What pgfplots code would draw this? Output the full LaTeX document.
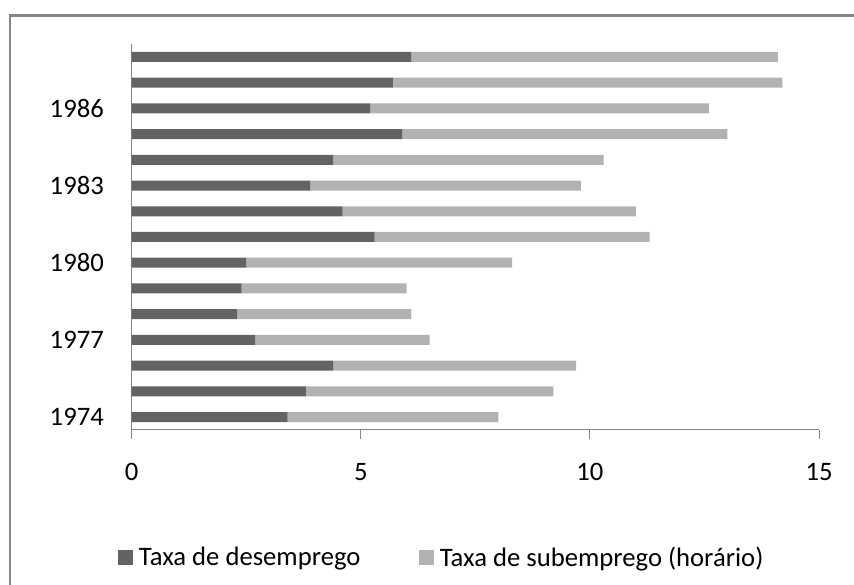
\documentclass[border=0pt]{standalone}
\usepackage{pgfplots}
\pgfplotsset{compat=1.18}
\usepackage{fontspec}
\setmainfont{Carlito}
\definecolor{dark}{HTML}{636363}
\definecolor{light}{HTML}{B2B2B2}
\definecolor{axgray}{HTML}{868686}
\begin{document}
\begin{tikzpicture}
\useasboundingbox (0,0) rectangle (640.5pt,438.75pt);
\draw[axgray, line width=1.8pt] (7.3pt,-2pt) -- (7.3pt,427pt) -- (643pt,427pt);
\begin{axis}[
  at={(98.8pt,116.25pt)}, anchor=south west,
  scale only axis, width=515.5pt, height=289.5pt,
  xbar stacked, bar width=7.5pt,
  xmin=0, xmax=15, ymin=1973.5, ymax=1988.5,
  xtick={0,5,10,15}, ytick={1974,1977,1980,1983,1986},
  axis x line*=bottom, axis y line*=left,
  axis line style={axgray, line width=0.75pt, -},
  tick align=outside, major tick length=6.75pt,
  xtick style={axgray, line width=0.75pt},
  ytick style={draw=none},
  font=\fontsize{20}{24}\selectfont,
  /pgf/number format/assume math mode=true,
  /pgf/number format/1000 sep={},
  yticklabel style={anchor=east, inner sep=0pt, xshift=-14pt},
  xticklabel style={anchor=north, inner sep=0pt, yshift=-18pt},
  legend columns=2,
  legend style={at={(-0.02,-0.33)}, anchor=west, draw=none, fill=none, inner sep=0pt,
    font=\fontsize{20}{24}\selectfont,
    /tikz/every even column/.append style={column sep=42pt}},
  legend image code/.code={\fill[#1] (0pt,-5.6pt) rectangle (11.25pt,5.6pt); \path (13.5pt,0pt);},
]
\addplot[fill=dark, draw=none] coordinates {
(3.4,1974) (3.8,1975) (4.4,1976) (2.7,1977) (2.3,1978) (2.4,1979) (2.5,1980)
(5.3,1981) (4.6,1982) (3.9,1983) (4.4,1984) (5.9,1985) (5.2,1986) (5.7,1987) (6.1,1988)};
\addplot[fill=light, draw=none] coordinates {
(4.6,1974) (5.4,1975) (5.3,1976) (3.8,1977) (3.8,1978) (3.6,1979) (5.8,1980)
(6.0,1981) (6.4,1982) (5.9,1983) (5.9,1984) (7.1,1985) (7.4,1986) (8.5,1987) (8.0,1988)};
\legend{Taxa de desemprego, Taxa de subemprego (horário)}
\end{axis}
\end{tikzpicture}
\end{document}
